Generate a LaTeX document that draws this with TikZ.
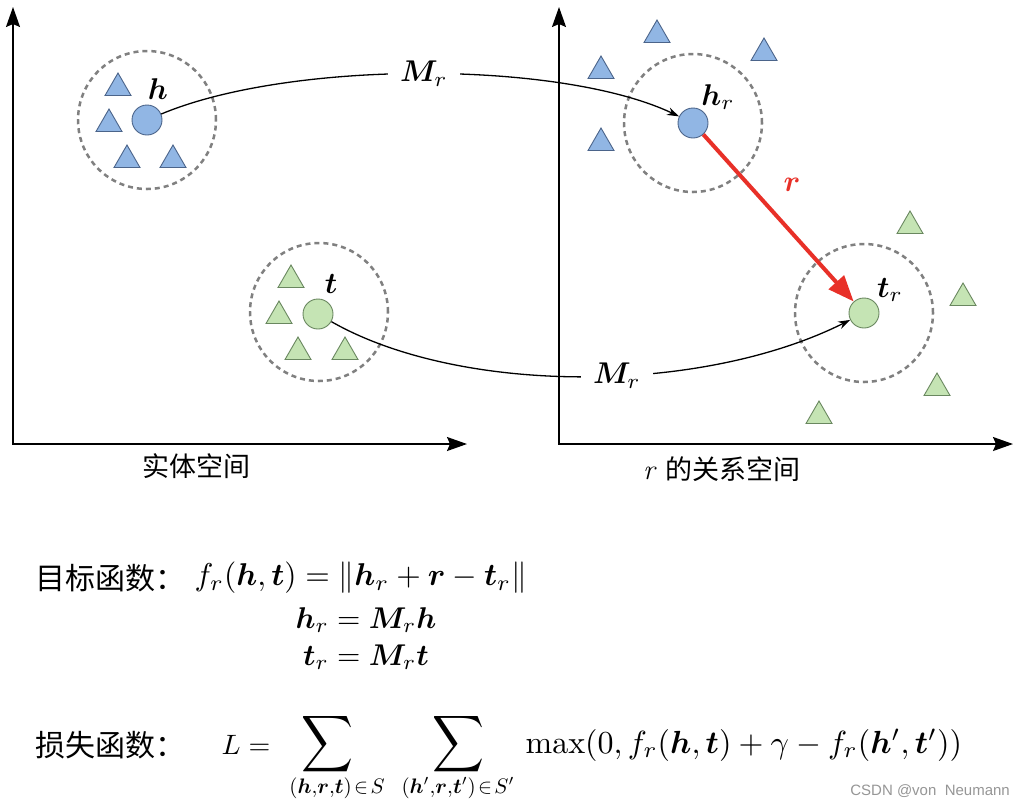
\documentclass[tikz,border=0pt]{standalone}
\usepackage{fontspec}
\usepackage{amsmath,bm}
\newfontfamily\cjk{Noto Sans CJK SC}
\newfontfamily\wmfont{Liberation Sans}
\usetikzlibrary{shapes.geometric,arrows.meta}
\definecolor{bluefill}{RGB}{145,182,228}
\definecolor{blueline}{RGB}{75,100,138}
\definecolor{greenfill}{RGB}{197,228,180}
\definecolor{greenline}{RGB}{105,135,95}
\definecolor{dashgray}{RGB}{128,128,128}
\definecolor{redarrow}{RGB}{232,48,40}
\definecolor{wmgray}{RGB}{150,150,150}
\tikzset{
  axisline/.style={line width=1.6pt, {Stealth[length=20pt,width=14pt,inset=3pt]}-{Stealth[length=20pt,width=14pt,inset=3pt]}},
  groupring/.style={circle, draw=dashgray, line width=2.5pt, dash pattern=on 5pt off 4pt, minimum size=138pt, inner sep=0pt},
  bluedot/.style={circle, draw=blueline, fill=bluefill, line width=0.9pt, minimum size=30pt, inner sep=0pt},
  greendot/.style={circle, draw=greenline, fill=greenfill, line width=0.9pt, minimum size=30pt, inner sep=0pt},
  bluetri/.style={regular polygon, regular polygon sides=3, draw=blueline, fill=bluefill, line width=0.9pt, minimum size=30pt, inner sep=0pt},
  greentri/.style={regular polygon, regular polygon sides=3, draw=greenline, fill=greenfill, line width=0.9pt, minimum size=30pt, inner sep=0pt},
  mapconn/.style={line width=1.3pt, -{Stealth[length=12pt,width=8pt]}},
  relarrow/.style={draw=redarrow, line width=4pt, -{Triangle[length=26pt,width=20pt]}},
  mathlbl/.style={scale=3.0, inner sep=1pt},
  bigsum/.style={xscale=3.6, yscale=3.95, inner sep=0pt, text height=9.5pt, text depth=4.5pt},
  cjklabel/.style={font=\cjk\fontsize{27}{30}\selectfont, inner sep=0pt},
  cjkhead/.style={font=\cjk\fontsize{30}{34}\selectfont, inner sep=0pt, anchor=west},
}
\begin{document}
\begin{tikzpicture}[x=1pt,y=-1pt]
\useasboundingbox[fill=white] (0,0) rectangle (1019,807);

% axes
\coordinate (ly) at (13,7);
\coordinate (lo) at (13,444);
\coordinate (lx) at (467,444);
\coordinate (ry) at (559,7);
\coordinate (ro) at (559,444);
\coordinate (rx) at (1013,444);
\draw[axisline] (ly) -- (lo) -- (lx);
\draw[axisline] (ry) -- (ro) -- (rx);

% left: head group
\node[groupring] (hring) at (147,120) {};
\node[bluetri] (hb1) at (118,88) {};
\node[bluetri] (hb2) at (109,124) {};
\node[bluetri] (hb3) at (127,160) {};
\node[bluetri] (hb4) at (173,160) {};
\node[bluedot] (h) at (147,120) {};
\node[mathlbl] (hlbl) at (158,89) {$\bm h$};

% left: tail group
\node[groupring] (tring) at (319,312) {};
\node[greentri] (tg1) at (291,280) {};
\node[greentri] (tg2) at (279,316) {};
\node[greentri] (tg3) at (298,352) {};
\node[greentri] (tg4) at (345,352) {};
\node[greendot] (t) at (318,314) {};
\node[mathlbl] (tlbl) at (331,284) {$\bm t$};

% right: projected head
\node[groupring] (hrring) at (693,123) {};
\node[bluetri] (hrb1) at (657,35) {};
\node[bluetri] (hrb2) at (601,71) {};
\node[bluetri] (hrb3) at (764,53) {};
\node[bluetri] (hrb4) at (601,143) {};
\node[bluedot] (hr) at (693,123) {};
\node[mathlbl] (hrlbl) at (718,97) {$\bm h_r$};

% right: projected tail
\node[groupring] (trring) at (864,313) {};
\node[greentri] (trg1) at (910,226) {};
\node[greentri] (trg2) at (963,298) {};
\node[greentri] (trg3) at (937,388) {};
\node[greentri] (trg4) at (819,416) {};
\node[greendot] (tr) at (864,313) {};
\node[mathlbl] (trlbl) at (890,290) {$\bm t_r$};

% mappings
\draw[mapconn] (h) .. controls (290,60) and (560,60) .. node[pos=0.5, fill=white, mathlbl, inner xsep=4pt] (m1) {$\bm M_r$} (hr);
\draw[mapconn] (t) .. controls (460,395) and (700,395) .. node[pos=0.56, fill=white, mathlbl, inner xsep=4pt] (m2) {$\bm M_r$} (tr);

% relation vector
\draw[relarrow] (hr) -- (tr);
\node[mathlbl, text=redarrow] (rlbl) at (792,185) {$\bm r$};

% axis captions
\node[cjklabel] (cap1) at (196,466) {实体空间};
\node[cjklabel, anchor=west] (cap2) at (643,469) {\scalebox{1.05}{$\mathit{r}$}\,\ 的关系空间};

% objective
\node[cjkhead] (objname) at (35,578) {目标函数：};
\node[scale=3.15, inner sep=0pt, anchor=west] (obj) at (194,578) {$f_r(\bm h,\bm t)=\lVert \bm h_r+\bm r-\bm t_r\rVert$};
\node[mathlbl] (eq2) at (366,620) {$\bm h_r=\bm M_r\bm h$};
\node[mathlbl] (eq3) at (366,657) {$\bm t_r=\bm M_r\bm t$};

% loss
\node[cjkhead] (lossname) at (35,745) {损失函数：};
\node[scale=2.8, inner sep=0pt] (Leq) at (246,745) {$L=$};
\node[bigsum] (sum1) at (327,744) {$\displaystyle\sum$};
\node[scale=2.1, inner sep=0pt] (sub1) at (337,788) {$(\bm h,\!\bm r,\!\bm t)\!\in\! S$};
\node[bigsum] (sum2) at (458,744) {$\displaystyle\sum$};
\node[scale=2.1, inner sep=0pt] (sub2) at (458,788) {$(\bm h',\!\bm r,\!\bm t')\!\in\! S'$};
\node[scale=3.2, inner sep=0pt, anchor=west] (maxterm) at (525,745) {$\max(0,f_r(\bm h,\bm t)+\gamma-f_r(\bm h',\bm t'))$};

% watermark
\node[font=\wmfont\fontsize{15}{17}\selectfont, text=wmgray, anchor=east, inner sep=0pt] (wm) at (1010,791) {CSDN @von\ \ Neumann};
\end{tikzpicture}
\end{document}
